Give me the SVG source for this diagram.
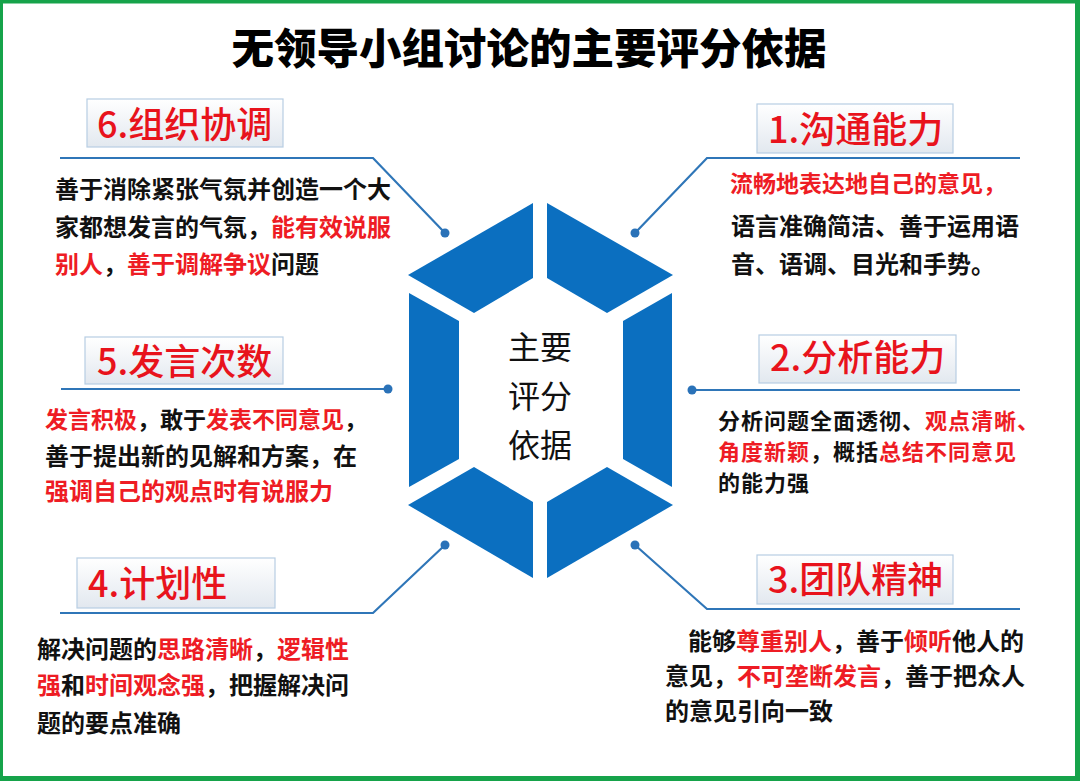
<svg xmlns="http://www.w3.org/2000/svg" width="1080" height="781" viewBox="0 0 1080 781">
<defs>
<linearGradient id="boxg" x1="0" y1="0" x2="0" y2="1">
<stop offset="0" stop-color="#ffffff"/>
<stop offset="1" stop-color="#e2e8ef"/>
</linearGradient>
<style>
.cjk{font-family:"Noto Sans CJK SC","Noto Sans",sans-serif;}
.title{font-size:42.5px;font-weight:900;fill:#000;}
.lbl{font-size:36px;font-weight:500;fill:#e8131c;}
.body{font-size:24px;font-weight:700;fill:#111;}
.sm{font-size:22px;letter-spacing:1px;}
.r{fill:#ee1c24;}
.box{fill:url(#boxg);stroke:#b7cde3;stroke-width:1.2;}
.hex{fill:#0b6fc0;}
.ln{fill:none;stroke:#2f76b8;stroke-width:2.2;}
.dot{fill:#2a72b8;}
.center{font-size:32px;font-weight:400;fill:#111;}
</style>
</defs>
<rect width="1080" height="781" fill="#ffffff"/>
<g id="frame" fill="#16a34a">
<rect x="0" y="0" width="1080" height="3.5"/>
<rect x="0" y="0" width="3" height="781"/>
<rect x="1075" y="0" width="5" height="781"/>
<rect x="0" y="776" width="1080" height="5"/>
</g>
<text id="title" class="cjk title" x="529" y="64" text-anchor="middle">无领导小组讨论的主要评分依据</text>

<g id="hexagon">
<polygon class="hex" points="408,275 533,203 533,278 474,313"/>
<polygon class="hex" points="547,203 673,275 607,313 547,278"/>
<polygon class="hex" points="409,293 459,321 459,459 409,487"/>
<polygon class="hex" points="672,293 623,321 623,459 672,487"/>
<polygon class="hex" points="408,505 474,467 533,502 533,578"/>
<polygon class="hex" points="547,502 607,467 673,505 547,578"/>
<text class="cjk center" x="540" y="359" text-anchor="middle">主要</text>
<text class="cjk center" x="540" y="408" text-anchor="middle">评分</text>
<text class="cjk center" x="540" y="457" text-anchor="middle">依据</text>
</g>

<g id="connectors">
<polyline class="ln" points="60,158 373,158 445,233"/>
<circle class="dot" cx="445" cy="233" r="4.5"/>
<polyline class="ln" points="1020,158 707,158 635,233"/>
<circle class="dot" cx="635" cy="233" r="4.5"/>
<polyline class="ln" points="61,389 388,389"/>
<circle class="dot" cx="388" cy="389" r="4.5"/>
<polyline class="ln" points="692,390 1020,390"/>
<circle class="dot" cx="692" cy="390" r="4.5"/>
<polyline class="ln" points="60,613 373,613 445,545"/>
<circle class="dot" cx="445" cy="545" r="4.5"/>
<polyline class="ln" points="1020,609 707,609 635,545"/>
<circle class="dot" cx="635" cy="545" r="4.5"/>
</g>

<g id="node1">
<rect class="box" x="757" y="104" width="196" height="49"/>
<text class="cjk lbl" x="768" y="143">1.沟通能力</text>
<text class="cjk body" x="730" y="192" style="font-size:23px"><tspan class="r">流畅地表达地自己的意见，</tspan></text>
<text class="cjk body" x="731" y="235">语言准确简洁、善于运用语</text>
<text class="cjk body" x="731" y="273">音、语调、目光和手势。</text>
</g>

<g id="node2">
<rect class="box" x="759" y="335" width="197" height="48"/>
<text class="cjk lbl" x="770" y="371">2.分析能力</text>
<text class="cjk body sm" x="718" y="429">分析问题全面透彻、<tspan class="r">观点清晰、</tspan></text>
<text class="cjk body sm" x="718" y="460"><tspan class="r">角度新颖</tspan>，概括<tspan class="r">总结不同意见</tspan></text>
<text class="cjk body sm" x="718" y="491">的能力强</text>
</g>

<g id="node3">
<rect class="box" x="757" y="555" width="196" height="49"/>
<text class="cjk lbl" x="768" y="593">3.团队精神</text>
<text class="cjk body" x="688" y="650">能够<tspan class="r">尊重别人</tspan>，善于<tspan class="r">倾听</tspan>他人的</text>
<text class="cjk body" x="665" y="685">意见，<tspan class="r">不可垄断发言</tspan>，善于把众人</text>
<text class="cjk body" x="665" y="720">的意见引向一致</text>
</g>

<g id="node4">
<rect class="box" x="77" y="558" width="198" height="50"/>
<text class="cjk lbl" x="88" y="597">4.计划性</text>
<text class="cjk body" x="37" y="658">解决问题的<tspan class="r">思路清晰</tspan>，<tspan class="r">逻辑性</tspan></text>
<text class="cjk body" x="37" y="694"><tspan class="r">强</tspan>和<tspan class="r">时间观念强</tspan>，把握解决问</text>
<text class="cjk body" x="37" y="732">题的要点准确</text>
</g>

<g id="node5">
<rect class="box" x="85" y="337" width="198" height="47"/>
<text class="cjk lbl" x="97" y="375">5.发言次数</text>
<text class="cjk body" x="45" y="428" style="font-size:23px"><tspan class="r">发言积极</tspan>，敢于<tspan class="r">发表不同意见</tspan>，</text>
<text class="cjk body" x="45" y="465">善于提出新的见解和方案，在</text>
<text class="cjk body" x="45" y="500"><tspan class="r">强调自己的观点时有说服力</tspan></text>
</g>

<g id="node6">
<rect class="box" x="87" y="99" width="196" height="48"/>
<text class="cjk lbl" x="97" y="138">6.组织协调</text>
<text class="cjk body" x="55" y="198">善于消除紧张气氛并创造一个大</text>
<text class="cjk body" x="55" y="236">家都想发言的气氛，<tspan class="r">能有效说服</tspan></text>
<text class="cjk body" x="55" y="273"><tspan class="r">别人</tspan>，<tspan class="r">善于调解争议</tspan>问题</text>
</g>
</svg>
